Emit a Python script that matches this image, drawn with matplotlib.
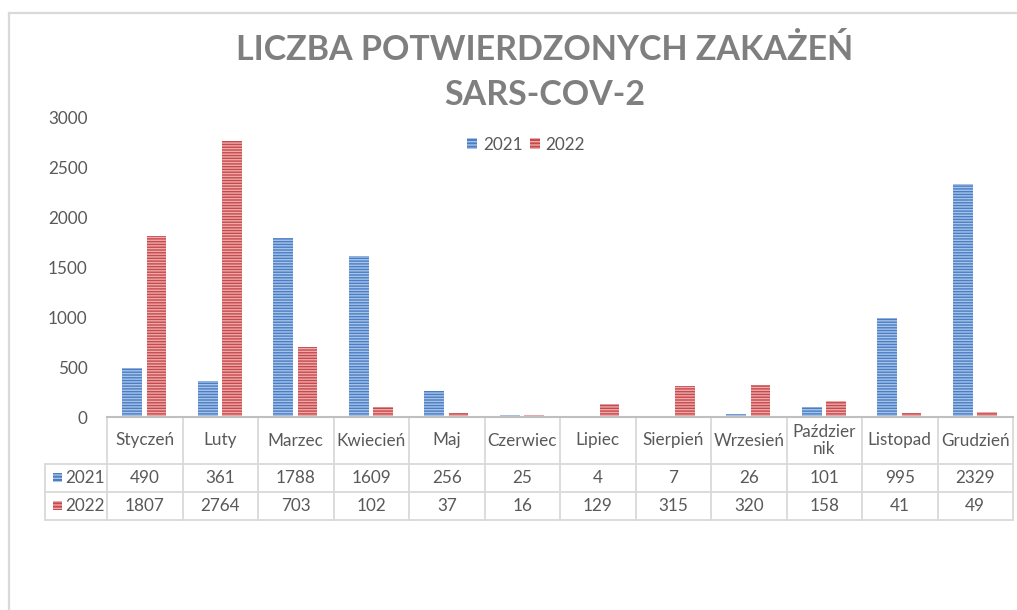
import matplotlib
matplotlib.use("Agg")
import matplotlib.pyplot as plt
import matplotlib.transforms as mtransforms
from matplotlib.patches import Rectangle, Patch
from matplotlib.lines import Line2D
import numpy as np

months = ["Styczeń", "Luty", "Marzec", "Kwiecień", "Maj", "Czerwiec", "Lipiec",
          "Sierpień", "Wrzesień", "Paździer\nnik", "Listopad", "Grudzień"]
series_names = ["2021", "2022"]
values_2021 = [490, 361, 1788, 1609, 256, 25, 4, 7, 26, 101, 995, 2329]
values_2022 = [1807, 2764, 703, 102, 37, 16, 129, 315, 320, 158, 41, 49]
yticks = [0, 500, 1000, 1500, 2000, 2500, 3000]

plt.rcParams['font.family'] = ['Lato', 'DejaVu Sans']
plt.rcParams['hatch.linewidth'] = 1.0

W, H = 1017, 610
fig = plt.figure(figsize=(W / 100, H / 100), dpi=100)
fig.patch.set_facecolor('white')

def fx(px):
    return px / W

def fy(py):
    return 1 - py / H

ax_left, ax_right, ax_top, ax_bot = 107, 1013, 117, 417
ax = fig.add_axes([fx(ax_left), fy(ax_bot), (ax_right - ax_left) / W, (ax_bot - ax_top) / H])

blue_face, blue_hatch = '#4A7EC4', '#A8C3E8'
red_face, red_hatch = '#C44A4C', '#EFA9AB'
text_gray = '#595959'
grid_gray = '#D9D9D9'
fs = 12.3

x = np.arange(len(months))
bw = 0.26
ax.bar(x - 0.165, values_2021, bw, color=blue_face, edgecolor=blue_hatch, hatch='------', linewidth=0)
ax.bar(x + 0.155, values_2022, bw, color=red_face, edgecolor=red_hatch, hatch='------', linewidth=0)

ax.set_xlim(-0.5, len(months) - 0.5)
ax.set_ylim(0, 3000)
ax.set_yticks(yticks)
ax.set_yticklabels([str(v) for v in yticks])
ax.tick_params(axis='y', length=0, pad=14, labelsize=fs, labelcolor=text_gray)
ax.set_xticks([])
for s in ['left', 'right', 'top']:
    ax.spines[s].set_visible(False)
ax.spines['bottom'].set_color('#BFBFBF')
ax.spines['bottom'].set_linewidth(1.5)

# Legend
handles = [Patch(facecolor=blue_face, edgecolor=blue_hatch, hatch='-----', linewidth=0),
           Patch(facecolor=red_face, edgecolor=red_hatch, hatch='-----', linewidth=0)]
ax.legend(handles, series_names, loc='center', bbox_to_anchor=(0.4625, 0.907), ncol=2,
          frameon=False, fontsize=fs, labelcolor=text_gray, handlelength=0.6,
          handleheight=0.6, handletextpad=0.35, columnspacing=0.4)

# Data table
trans = mtransforms.blended_transform_factory(ax.transData, ax.transAxes)
px_per_cat = (ax_right - ax_left) / len(months)
left_col_x = -0.5 - (ax_left - 45) / px_per_cat

def ya(py):
    return (ax_bot - py) / (ax_bot - ax_top)

y_hdr = ya(464)
y_r1 = ya(492)
y_r2 = ya(520)
lw_t = 1.3
for yy in [y_hdr, y_r1, y_r2]:
    ax.add_line(Line2D([left_col_x, len(months) - 0.5], [yy, yy], transform=trans,
                       color=grid_gray, lw=lw_t, clip_on=False))
for k in range(len(months) + 1):
    ax.add_line(Line2D([k - 0.5, k - 0.5], [0, y_r2], transform=trans,
                       color=grid_gray, lw=lw_t, clip_on=False))
ax.add_line(Line2D([left_col_x, left_col_x], [y_hdr, y_r2], transform=trans,
                   color=grid_gray, lw=lw_t, clip_on=False))

for i, m in enumerate(months):
    ax.text(i, (0 + y_hdr) / 2, m, transform=trans, ha='center', va='center',
            fontsize=fs, color=text_gray, linespacing=1.1, clip_on=False)
    ax.text(i, (y_hdr + y_r1) / 2, str(values_2021[i]), transform=trans, ha='center',
            va='center', fontsize=fs, color=text_gray, clip_on=False)
    ax.text(i, (y_r1 + y_r2) / 2, str(values_2022[i]), transform=trans, ha='center',
            va='center', fontsize=fs, color=text_gray, clip_on=False)

# Row labels with markers (figure pixels)
for (name, fc, hc, rowc) in [(series_names[0], blue_face, blue_hatch, 478),
                             (series_names[1], red_face, red_hatch, 506)]:
    fig.patches.append(Rectangle((fx(53), fy(rowc + 4)), 9 / W, 9 / H, transform=fig.transFigure,
                                 facecolor=fc, edgecolor=hc, hatch='-----', linewidth=0))
    fig.text(fx(65), fy(rowc), name, ha='left', va='center', fontsize=fs, color=text_gray)

# Title
title_color = '#7F7F7F'
fig.text(fx(545), fy(50), "LICZBA POTWIERDZONYCH ZAKAŻEŃ",
         ha='center', va='center', fontsize=24.5, fontweight='bold', color=title_color,
         family=['Lato', 'DejaVu Sans'])
fig.text(fx(545), fy(95), "SARS-COV-2",
         ha='center', va='center', fontsize=24.5, fontweight='bold', color=title_color,
         family=['Lato', 'DejaVu Sans'])

# Outer chart frame
fig.add_artist(Line2D([fx(9), 1], [fy(13), fy(13)], transform=fig.transFigure,
                      color='#D9D9D9', lw=1.6))
fig.add_artist(Line2D([fx(9), fx(9)], [fy(13), 0], transform=fig.transFigure,
                      color='#D9D9D9', lw=1.6))

fig.savefig("out.png", dpi=100, facecolor='white')
